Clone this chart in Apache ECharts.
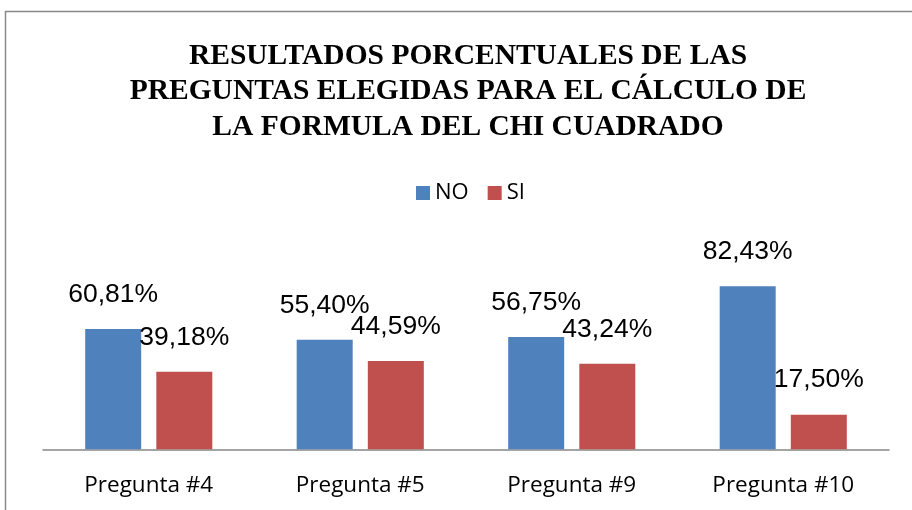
<!DOCTYPE html>
<html>
<head>
<meta charset="utf-8">
<script src="https://cdn.jsdelivr.net/npm/echarts@6/dist/echarts.min.js"></script>
<style>html,body{margin:0;padding:0;background:#fff}#c{width:912px;height:510px}</style>
</head>
<body>
<div id="c"></div>
<script>
const titleText = 'RESULTADOS PORCENTUALES DE LAS\nPREGUNTAS ELEGIDAS PARA EL CÁLCULO DE\nLA FORMULA DEL CHI CUADRADO';
const categories = ['Pregunta #4', 'Pregunta #5', 'Pregunta #9', 'Pregunta #10'];
const seriesNames = ['NO', 'SI'];
const noValues = [60.81, 55.40, 56.75, 82.43];
const siValues = [39.18, 44.59, 43.24, 17.50];

const fmt = p => p.value.toFixed(2).replace('.', ',') + '%';
const labelStyle = {
  show: true, position: 'top', distance: 21, formatter: fmt,
  fontFamily: 'Liberation Sans, Arial', fontSize: 26.5, color: '#000'
};

const chart = echarts.init(document.getElementById('c'), null, {renderer: 'canvas'});
chart.setOption({
  animation: false,
  backgroundColor: '#fff',
  graphic: [{
    type: 'rect', silent: true, z: -1,
    shape: {x: 5.5, y: 11.5, width: 1000, height: 1000},
    style: {fill: 'none', stroke: '#898989', lineWidth: 1.5}
  }],
  title: {
    text: titleText, left: 463, top: 33.5, textAlign: 'center',
    textStyle: {fontFamily: 'Liberation Serif, Times New Roman', fontWeight: 'bold', fontSize: 29.5, lineHeight: 35.5, color: '#000'}
  },
  legend: {
    data: seriesNames, left: 411, top: 177, itemWidth: 14, itemHeight: 14, itemGap: 19,
    icon: 'rect',
    textStyle: {fontFamily: 'Open Sans', fontSize: 22, color: '#000'}
  },
  grid: {left: 43, right: 23, top: 251.5, bottom: 60.7},
  xAxis: {
    type: 'category', data: categories,
    axisLine: {lineStyle: {color: '#868686', width: 1.5}},
    axisTick: {show: false},
    axisLabel: {fontFamily: 'Open Sans', fontSize: 22.5, color: '#000', margin: 24.5}
  },
  yAxis: {type: 'value', min: 0, max: 100, show: false, splitLine: {show: false}},
  series: [
    {name: 'NO', type: 'bar', data: noValues, barWidth: 56, barGap: '27%', itemStyle: {color: '#4F81BD'}, label: labelStyle},
    {name: 'SI', type: 'bar', data: siValues, barWidth: 56, barGap: '27%', itemStyle: {color: '#C0504D'}, label: labelStyle}
  ]
});
</script>
</body>
</html>
